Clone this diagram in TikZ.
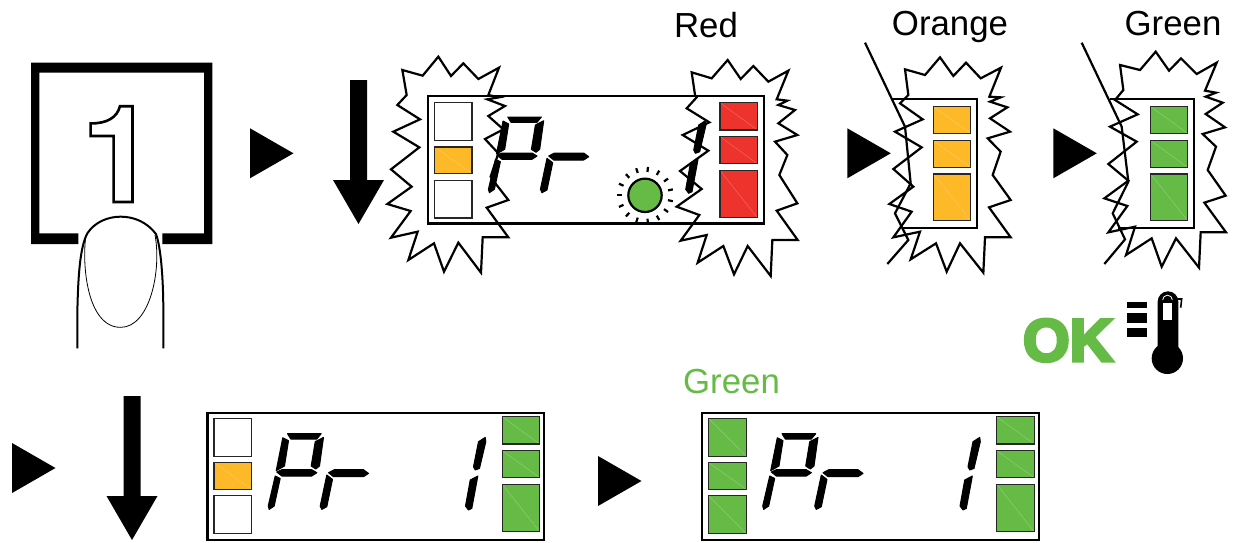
\documentclass[tikz,border=0pt]{standalone}
\usepackage{fontspec}
\setmainfont{Liberation Sans}
\newfontfamily\herosfont{TeX Gyre Heros}
\usetikzlibrary{positioning}
\definecolor{ledred}{HTML}{EE332D}
\definecolor{ledorange}{HTML}{FDB927}
\definecolor{ledgreen}{HTML}{66BB46}
\tikzset{
	x=.5pt, y=-.5pt,
	burst/.style = {line width=1.1pt, line join=miter, miter limit=10},
	lcdbox/.style = {line width=1.1pt},
	lcdseg/.style = {fill=black, draw=black, line width=.5pt, line join=round},
	sqbox/.style = {draw=black!85, line width=.6pt},
	label/.style = {font=\fontsize{17.4}{20}\selectfont, anchor=base, inner sep=0},
	zoomed/.style = {x=.16667pt, y=-.16667pt}
}
\newcommand{\playmark}[2]{\fill (#1,#2-25) -- ++(43.5,25) -- ++(-43.5,25) -- cycle;}
\newcommand{\downmark}[2]{
	\fill (#1-8.5,#2) -- ++(17,0) -- ++(0,100) -- ++(17,0) -- ++(-25.5,44) -- ++(-25.5,-44) -- ++(17,0) -- cycle;
}
\newcommand{\colsq}[5]{
	\fill[#5] (#1,#2) rectangle (#3,#4);
	\draw[white!35!#5, line width=.15pt] (#1,#2) -- (#3,#4);
	\draw[sqbox] (#1,#2) rectangle (#3,#4);
}
\newcommand{\leftstack}[5]{
	\begin{scope}[shift={(#1,#2)}]
		\colsq{0}{0}{37.6}{37.8}{#3}
		\colsq{0}{44.2}{37.6}{71}{#4}
		\colsq{0}{77.5}{37.6}{115.2}{#5}
	\end{scope}
}
\newcommand{\rightstack}[3]{
	\begin{scope}[shift={(#1,#2)}]
		\colsq{0}{0}{37.4}{27.3}{#3}
		\colsq{0}{34}{37.4}{61}{#3}
		\colsq{0}{67.7}{37.4}{115}{#3}
	\end{scope}
}
\newcommand{\lcdpanel}[2]{
	\begin{scope}[shift={(#1,#2)}]
		\draw[lcdbox] (0,0) rectangle (336.6,127.5);
		\draw[lcdseg] (80,21) -- (113.7,21) -- (109.3,26.3) -- (83.3,26.3) -- cycle;
		\draw[lcdseg] (75.3,25) -- (81,28) -- (77,53.3) -- (68.7,58) -- cycle;
		\draw[lcdseg] (116,24.7) -- (112,53.3) -- (108.3,56.3) -- (103.7,53.3) -- (107.7,29) -- cycle;
		\draw[lcdseg] (69.3,59.3) -- (74.3,57) -- (104.3,57) -- (109.3,60) -- (104.3,63.3) -- (74.3,63.3) -- cycle;
		\draw[lcdseg] (67.7,63.3) -- (72.7,65.7) -- (66.7,93.3) -- (61.7,96.7) -- (60.7,93.3) -- cycle;
		\draw[lcdseg] (121,60) -- (126.7,57) -- (156,57) -- (161,60.7) -- (156,64) -- (126,64) -- cycle;
		\draw[lcdseg] (119.3,62.3) -- (125,66.7) -- (119.3,94) -- (114.3,96.7) -- (112.7,93.3) -- cycle;
		\draw[lcdseg] (277.7,24.7) -- (278.3,29) -- (272,55.7) -- (267.7,57.3) -- (266,54) -- (271,29) -- cycle;
		\draw[lcdseg] (270.3,63.3) -- (269.3,69) -- (264.3,95.7) -- (261,97.3) -- (258,93.3) -- (262.7,67.3) -- cycle;
	\end{scope}
}
\begin{document}
\begin{tikzpicture}
	\useasboundingbox (0,0) rectangle (1235,542);

	\begin{scope}[shift={(0,50)},zoomed]
		\fill (93,38) -- (637,38) -- (637,582) -- (487,582) -- (487,550) -- (612,550) -- (612,68) -- (118,68) -- (118,550) -- (235,550) -- (235,582) -- (93,582) -- cycle;
		\draw[line width=1pt] (232,895) -- (232,790) .. controls (234,680) and (240,590) .. (262,550) .. controls (285,515) and (325,500) .. (362,500) .. controls (400,500) and (440,515) .. (468,552) .. controls (482,590) and (490,680) .. (490,790) -- (490,895);
		\draw[line width=.4pt] (258,555) .. controls (245,640) and (260,832) .. (362,832) .. controls (450,832) and (485,660) .. (465,555);
	\end{scope}
	\node(digit)[anchor=base, inner sep=0, font=\herosfont\fontsize{67.5}{70}\bfseries] at (119,202) {\special{pdf:code 1 Tr 1.3 w}1\special{pdf:code 0 Tr}};

	\playmark{250}{153.3}
	\downmark{358.5}{80}

	\lcdpanel{427.7}{96}
	\leftstack{434.3}{102.7}{white}{ledorange}{white}
	\rightstack{720}{102.7}{ledred}
	\filldraw[fill=ledgreen, line width=1.1pt] (645,195.3) circle (16.7);
	\foreach \ang in {12,36,...,348}
		\draw[line width=1.1pt] (645,195.3) ++(\ang:23.5) -- ++(\ang:5);

	\begin{scope}[shift={(380,40)},zoomed]
		\draw[burst] (325,165) -- (357,83) -- (295,117) -- (250,70) -- (213,108) -- (175,50) -- (128,107) -- (67,90) -- (80,165) -- (52,195) -- (120,238) -- (40,275) -- (118,322) -- (33,388) -- (95,440) -- (22,492) -- (92,513) -- (33,593) -- (113,575) -- (85,660) -- (162,610) -- (192,695) -- (235,608) -- (303,698) -- (308,592) -- (385,592) -- (320,503) -- (385,480) -- (350,435) -- (332,410) -- (355,340) -- (315,297) -- (370,268) -- (325,228) -- (375,198) -- (322,178) -- (357,172) -- cycle;
		\draw[burst] (945,165) -- (935,97) -- (995,115) -- (1043,60) -- (1082,117) -- (1120,78) -- (1165,125) -- (1225,92) -- (1190,178) -- (1222,182) -- (1195,195) -- (1245,210) -- (1195,250) -- (1252,285) -- (1185,305) -- (1222,345) -- (1198,405) -- (1252,490) -- (1190,512) -- (1253,600) -- (1177,600) -- (1172,708) -- (1103,618) -- (1062,703) -- (1030,618) -- (953,668) -- (980,585) -- (902,602) -- (958,525) -- (890,500) -- (965,447) -- (900,393) -- (985,332) -- (908,285) -- (988,247) -- (920,205) -- (950,172) -- cycle;
	\end{scope}

	\node(redlabel)[label] at (706,37) {Red};
	\node(orangelabel)[label] at (950,35) {Orange};
	\node(greenlabel)[label] at (1173,35) {Green};

	\playmark{847.3}{153.3}
	\playmark{1053.3}{153.3}

	\begin{scope}[shift={(840,0)},zoomed]
		\draw[lcdbox] (155,298) -- (412,298) -- (412,683) -- (190,683);
		\colsq{280}{320}{392}{400}{ledorange}
		\colsq{280}{422}{392}{502}{ledorange}
		\colsq{280}{522}{392}{662}{ledorange}
		\draw[burst] (205,285) -- (195,208) -- (255,225) -- (300,172) -- (340,228) -- (378,188) -- (422,235) -- (483,203) -- (448,290) -- (482,292) -- (450,305) -- (502,322) -- (450,355) -- (510,395) -- (443,415) -- (482,455) -- (458,525) -- (512,600) -- (447,622) -- (512,712) -- (435,712) -- (430,818) -- (360,730) -- (320,815) -- (288,730) -- (212,778) -- (240,695) -- (160,712) -- (215,635) -- (148,612) -- (220,560) -- (160,507) -- (245,442) -- (165,395) -- (248,358) -- (180,310) -- cycle;
		\draw[burst] (75,128) -- (195,380) -- (212,550) -- (165,640) -- (205,720) -- (142,792);

		\draw[lcdbox] (810,298) -- (1062,298) -- (1062,683) -- (835,683);
		\colsq{932}{320}{1043}{400}{ledgreen}
		\colsq{932}{422}{1043}{502}{ledgreen}
		\colsq{932}{522}{1043}{662}{ledgreen}
		\draw[burst] (850,270) -- (840,195) -- (900,210) -- (947,155) -- (987,212) -- (1023,175) -- (1070,222) -- (1130,188) -- (1095,272) -- (1128,278) -- (1097,290) -- (1148,308) -- (1097,342) -- (1155,382) -- (1088,402) -- (1128,440) -- (1103,510) -- (1157,587) -- (1093,608) -- (1158,697) -- (1082,697) -- (1077,803) -- (1008,715) -- (965,800) -- (935,715) -- (858,765) -- (885,680) -- (805,697) -- (862,618) -- (793,595) -- (865,542) -- (805,492) -- (890,425) -- (810,380) -- (893,343) -- (825,300) -- cycle;
		\draw[burst] (725,128) -- (845,380) -- (865,545) -- (818,640) -- (855,718) -- (793,792);
	\end{scope}

	\node(oktext)[anchor=base, inner sep=0, text=ledgreen, font=\fontsize{30}{32}\bfseries] at (1068,361) {\special{pdf:code 2 Tr 1.6 w}OK\special{pdf:code 0 Tr}};

	\begin{scope}[shift={(1015,285)},zoomed]
		\fill (335,52) rectangle (395,70);
		\fill (335,85) rectangle (395,115);
		\fill (335,130) rectangle (395,157);
		\fill (428,230) -- (428,50) arc (180:360:31) -- (490,230) -- cycle;
		\fill (457,220) circle (47);
		\fill[white] (443,55) rectangle (472,105);
		\draw[white, line width=.4pt] (443,45) arc (180:360:14.5);
		\draw[line width=.8pt] (488,42) -- (500,42) -- (497,68);
	\end{scope}

	\playmark{12}{468}
	\downmark{132}{396}

	\lcdpanel{207.5}{412.7}
	\leftstack{214}{418.3}{white}{ledorange}{white}
	\rightstack{502.3}{416.7}{ledgreen}

	\playmark{598}{481}

	\node(greenok)[label, text=ledgreen] at (731.5,393) {Green};
	\lcdpanel{702}{412.7}
	\leftstack{708.5}{418.3}{ledgreen}{ledgreen}{ledgreen}
	\rightstack{996.8}{416.7}{ledgreen}
\end{tikzpicture}
\end{document}
